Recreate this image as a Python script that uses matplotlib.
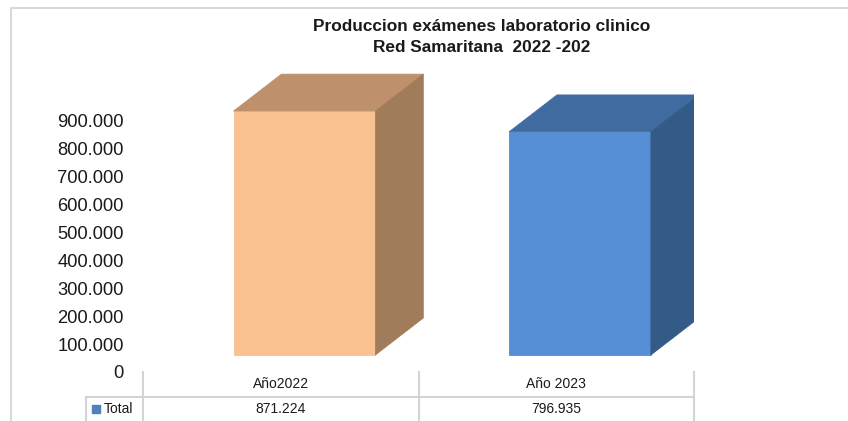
import matplotlib
matplotlib.use("Agg")
import matplotlib.pyplot as plt
from matplotlib.transforms import blended_transform_factory
from matplotlib.lines import Line2D
from matplotlib.patches import Rectangle

# data
categories = ["Año2022", "Año 2023"]
values = [871224, 796935]
series_name = "Total"
yticks = [0, 100000, 200000, 300000, 400000, 500000, 600000, 700000, 800000, 900000]

# bar colours (front, top, side)
front_cols = ["#FAC290", "#558ED5"]
top_cols = ["#BE906C", "#3F6BA0"]
side_cols = ["#A07C5A", "#345A87"]

plt.rcParams['font.family'] = ['Liberation Sans', 'DejaVu Sans']


def fmt(v):
    return f"{v:,.0f}".replace(",", ".")


fig = plt.figure(figsize=(8.48, 4.21), dpi=100)
ax = fig.add_axes([143 / 848, 49 / 421, 551 / 848, 312 / 421])
ax.set_xlim(-0.5, 1.5)
ax.set_ylim(0, 1114286)

# 3D look parameters
floor = 60700      # front base sits a bit above the 0 label
dx = 0.174         # depth in category units
dy = 132000        # depth in value units
half_w = 0.2575
shift = 0.086

for i, v in enumerate(values):
    x0 = i + shift - half_w
    x1 = i + shift + half_w
    y0 = floor
    y1 = floor + v
    ax.fill([x0, x1, x1, x0], [y0, y0, y1, y1], color=front_cols[i], lw=0.6,
            ec=front_cols[i], zorder=3)
    ax.fill([x0, x1, x1 + dx, x0 + dx], [y1, y1, y1 + dy, y1 + dy],
            color=top_cols[i], lw=0.5, ec=top_cols[i], zorder=3)
    ax.fill([x1, x1 + dx, x1 + dx, x1], [y0, y0 + dy, y1 + dy, y1],
            color=side_cols[i], lw=0.5, ec=side_cols[i], zorder=3)

ax.set_yticks(yticks)
ax.set_yticklabels([fmt(t) for t in yticks], fontsize=13.2, color="#1a1a1a")
ax.tick_params(axis='y', length=0, pad=14)
ax.set_xticks([])
for s in ax.spines.values():
    s.set_visible(False)

# data table below the plot
tr = blended_transform_factory(ax.transData, ax.transAxes)
grid_c = "#d4d4d4"
row1 = -25 / 312
row2 = -49 / 312
bottom = -0.3
leg_left = -0.707

for xb in [-0.5, 0.5, 1.5]:
    ax.add_line(Line2D([xb, xb], [0, bottom], transform=tr, color=grid_c,
                       lw=1.5, clip_on=False))
ax.add_line(Line2D([leg_left, 1.5], [row1, row1], transform=tr, color=grid_c,
                   lw=1.5, clip_on=False))
ax.add_line(Line2D([leg_left, leg_left], [row1, bottom], transform=tr, color=grid_c,
                   lw=1.5, clip_on=False))

for i, (c, v) in enumerate(zip(categories, values)):
    ax.text(i, row1 / 2, c, transform=tr, ha='center', va='center',
            fontsize=10, color="#1a1a1a")
    ax.text(i, (row1 + row2) / 2, fmt(v), transform=tr, ha='center',
            va='center', fontsize=10, color="#1a1a1a")

ax.add_line(Line2D([-0.671], [(row1 + row2) / 2], transform=tr, marker='s',
                   markersize=6, color="#4F81BD", ls='none', clip_on=False))
ax.text(-0.642, (row1 + row2) / 2, series_name, transform=tr, ha='left',
        va='center', fontsize=10, color="#1a1a1a")

# title
fig.text(482 / 848, 1 - 37 / 421, "Produccion exámenes laboratorio clinico\nRed Samaritana  2022 -202",
         ha='center', va='center', fontsize=12.4, fontweight='bold',
         linespacing=1.5, color="#1a1a1a")

# chart area border
fig.patches.append(Rectangle((11 / 848, -0.2), 1.2, 1.2 - 8 / 421,
                             transform=fig.transFigure, fill=False,
                             ec="#d9d9d9", lw=1.5))

fig.savefig("out.png", dpi=100, facecolor="white")
